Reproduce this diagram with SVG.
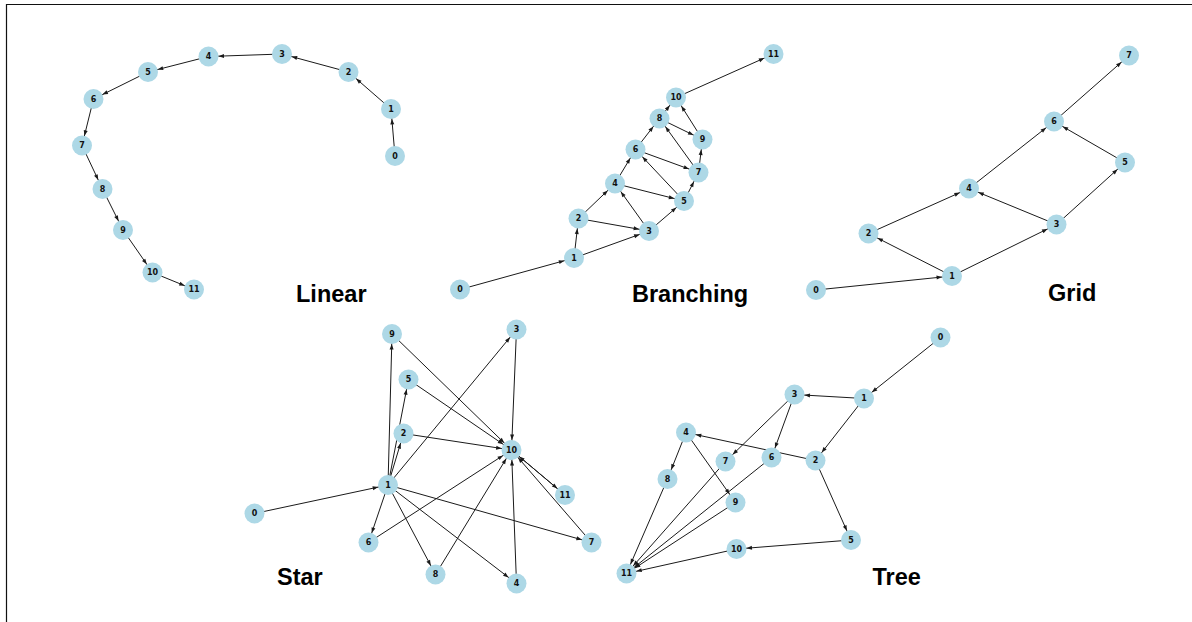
<svg xmlns="http://www.w3.org/2000/svg" width="1192" height="622" viewBox="0 0 1192 622">
  <style>
    .frame { stroke: #111; stroke-width: 1.2; fill: none; }
    .edge { stroke: #1a1a1a; stroke-width: 1; fill: none; marker-end: url(#arrow); }
    .node circle { fill: #add8e6; stroke: none; }
    .node text { font-family: "DejaVu Sans", sans-serif; font-weight: bold; font-size: 8px; text-anchor: middle; fill: #111; }
    .title { font-family: "Liberation Sans", Arial, sans-serif; font-weight: bold; font-size: 23.5px; fill: #000; }
  </style>
  <defs>
    <!-- arrowhead tip sits on the rim of a node of radius 10 -->
    <marker id="arrow" markerUnits="userSpaceOnUse" orient="auto" refX="0" refY="0" markerWidth="20" markerHeight="20" overflow="visible">
      <path d="M -10 0 L -15.5 -2 L -15.5 2 Z" fill="#1a1a1a"/>
    </marker>
  </defs>

  <rect width="1192" height="622" fill="#fff"/>
  <path class="frame" d="M 6.5 622 L 6.5 4.5 L 1192 4.5"/>

  <!-- Linear -->
  <g id="linear-edges">
    <line class="edge" x1="395" y1="156" x2="391" y2="109"/>
    <line class="edge" x1="391" y1="109" x2="348.5" y2="72"/>
    <line class="edge" x1="348.5" y1="72" x2="282" y2="54"/>
    <line class="edge" x1="282" y1="54" x2="208.5" y2="56.5"/>
    <line class="edge" x1="208.5" y1="56.5" x2="148" y2="72"/>
    <line class="edge" x1="148" y1="72" x2="93.5" y2="99"/>
    <line class="edge" x1="93.5" y1="99" x2="82" y2="145.5"/>
    <line class="edge" x1="82" y1="145.5" x2="102.5" y2="189"/>
    <line class="edge" x1="102.5" y1="189" x2="123" y2="230"/>
    <line class="edge" x1="123" y1="230" x2="152.5" y2="272.5"/>
    <line class="edge" x1="152.5" y1="272.5" x2="194" y2="289.5"/>
  </g>
  <g id="linear-0" class="node" transform="translate(395,156)"><circle r="10"/><text y="2.9">0</text></g>
  <g id="linear-1" class="node" transform="translate(391,109)"><circle r="10"/><text y="2.9">1</text></g>
  <g id="linear-2" class="node" transform="translate(348.5,72)"><circle r="10"/><text y="2.9">2</text></g>
  <g id="linear-3" class="node" transform="translate(282,54)"><circle r="10"/><text y="2.9">3</text></g>
  <g id="linear-4" class="node" transform="translate(208.5,56.5)"><circle r="10"/><text y="2.9">4</text></g>
  <g id="linear-5" class="node" transform="translate(148,72)"><circle r="10"/><text y="2.9">5</text></g>
  <g id="linear-6" class="node" transform="translate(93.5,99)"><circle r="10"/><text y="2.9">6</text></g>
  <g id="linear-7" class="node" transform="translate(82,145.5)"><circle r="10"/><text y="2.9">7</text></g>
  <g id="linear-8" class="node" transform="translate(102.5,189)"><circle r="10"/><text y="2.9">8</text></g>
  <g id="linear-9" class="node" transform="translate(123,230)"><circle r="10"/><text y="2.9">9</text></g>
  <g id="linear-10" class="node" transform="translate(152.5,272.5)"><circle r="10"/><text y="2.9">10</text></g>
  <g id="linear-11" class="node" transform="translate(194,289.5)"><circle r="10"/><text y="2.9">11</text></g>
  <text class="title" x="296" y="301.5">Linear</text>

  <!-- Branching -->
  <g id="branching-edges">
    <line class="edge" x1="460" y1="289.5" x2="574" y2="258"/>
    <line class="edge" x1="574" y1="258" x2="578.5" y2="218.5"/>
    <line class="edge" x1="574" y1="258" x2="649" y2="231"/>
    <line class="edge" x1="578.5" y1="218.5" x2="649" y2="231"/>
    <line class="edge" x1="578.5" y1="218.5" x2="615" y2="183.5"/>
    <line class="edge" x1="649" y1="231" x2="615" y2="183.5"/>
    <line class="edge" x1="649" y1="231" x2="684" y2="201"/>
    <line class="edge" x1="615" y1="183.5" x2="684" y2="201"/>
    <line class="edge" x1="615" y1="183.5" x2="635.5" y2="149.5"/>
    <line class="edge" x1="684" y1="201" x2="635.5" y2="149.5"/>
    <line class="edge" x1="684" y1="201" x2="698.5" y2="172.5"/>
    <line class="edge" x1="635.5" y1="149.5" x2="698.5" y2="172.5"/>
    <line class="edge" x1="635.5" y1="149.5" x2="659.5" y2="118.5"/>
    <line class="edge" x1="698.5" y1="172.5" x2="659.5" y2="118.5"/>
    <line class="edge" x1="698.5" y1="172.5" x2="702.5" y2="139.5"/>
    <line class="edge" x1="659.5" y1="118.5" x2="702.5" y2="139.5"/>
    <line class="edge" x1="659.5" y1="118.5" x2="676" y2="97.5"/>
    <line class="edge" x1="702.5" y1="139.5" x2="676" y2="97.5"/>
    <line class="edge" x1="676" y1="97.5" x2="773.5" y2="54"/>
  </g>
  <g id="branching-0" class="node" transform="translate(460,289.5)"><circle r="10"/><text y="2.9">0</text></g>
  <g id="branching-1" class="node" transform="translate(574,258)"><circle r="10"/><text y="2.9">1</text></g>
  <g id="branching-2" class="node" transform="translate(578.5,218.5)"><circle r="10"/><text y="2.9">2</text></g>
  <g id="branching-3" class="node" transform="translate(649,231)"><circle r="10"/><text y="2.9">3</text></g>
  <g id="branching-4" class="node" transform="translate(615,183.5)"><circle r="10"/><text y="2.9">4</text></g>
  <g id="branching-5" class="node" transform="translate(684,201)"><circle r="10"/><text y="2.9">5</text></g>
  <g id="branching-6" class="node" transform="translate(635.5,149.5)"><circle r="10"/><text y="2.9">6</text></g>
  <g id="branching-7" class="node" transform="translate(698.5,172.5)"><circle r="10"/><text y="2.9">7</text></g>
  <g id="branching-8" class="node" transform="translate(659.5,118.5)"><circle r="10"/><text y="2.9">8</text></g>
  <g id="branching-9" class="node" transform="translate(702.5,139.5)"><circle r="10"/><text y="2.9">9</text></g>
  <g id="branching-10" class="node" transform="translate(676,97.5)"><circle r="10"/><text y="2.9">10</text></g>
  <g id="branching-11" class="node" transform="translate(773.5,54)"><circle r="10"/><text y="2.9">11</text></g>
  <text class="title" x="632" y="301.5">Branching</text>

  <!-- Grid -->
  <g id="grid-edges">
    <line class="edge" x1="816" y1="290" x2="952" y2="276"/>
    <line class="edge" x1="952" y1="276" x2="868.5" y2="233.5"/>
    <line class="edge" x1="952" y1="276" x2="1056.5" y2="224.5"/>
    <line class="edge" x1="868.5" y1="233.5" x2="969" y2="188.5"/>
    <line class="edge" x1="1056.5" y1="224.5" x2="969" y2="188.5"/>
    <line class="edge" x1="1056.5" y1="224.5" x2="1125" y2="162.5"/>
    <line class="edge" x1="969" y1="188.5" x2="1054" y2="121.5"/>
    <line class="edge" x1="1125" y1="162.5" x2="1054" y2="121.5"/>
    <line class="edge" x1="1054" y1="121.5" x2="1129" y2="55.5"/>
  </g>
  <g id="grid-0" class="node" transform="translate(816,290)"><circle r="10"/><text y="2.9">0</text></g>
  <g id="grid-1" class="node" transform="translate(952,276)"><circle r="10"/><text y="2.9">1</text></g>
  <g id="grid-2" class="node" transform="translate(868.5,233.5)"><circle r="10"/><text y="2.9">2</text></g>
  <g id="grid-3" class="node" transform="translate(1056.5,224.5)"><circle r="10"/><text y="2.9">3</text></g>
  <g id="grid-4" class="node" transform="translate(969,188.5)"><circle r="10"/><text y="2.9">4</text></g>
  <g id="grid-5" class="node" transform="translate(1125,162.5)"><circle r="10"/><text y="2.9">5</text></g>
  <g id="grid-6" class="node" transform="translate(1054,121.5)"><circle r="10"/><text y="2.9">6</text></g>
  <g id="grid-7" class="node" transform="translate(1129,55.5)"><circle r="10"/><text y="2.9">7</text></g>
  <text class="title" x="1048" y="301">Grid</text>

  <!-- Star -->
  <g id="star-edges">
    <line class="edge" x1="254.5" y1="513.5" x2="388" y2="485"/>
    <line class="edge" x1="388" y1="485" x2="403.5" y2="433.5"/>
    <line class="edge" x1="388" y1="485" x2="516.5" y2="329.5"/>
    <line class="edge" x1="388" y1="485" x2="516.5" y2="583.5"/>
    <line class="edge" x1="388" y1="485" x2="408.5" y2="379.5"/>
    <line class="edge" x1="388" y1="485" x2="368.5" y2="542.5"/>
    <line class="edge" x1="388" y1="485" x2="591.5" y2="542.5"/>
    <line class="edge" x1="388" y1="485" x2="435.5" y2="574.5"/>
    <line class="edge" x1="388" y1="485" x2="392" y2="334"/>
    <line class="edge" x1="403.5" y1="433.5" x2="511.5" y2="450"/>
    <line class="edge" x1="516.5" y1="329.5" x2="511.5" y2="450"/>
    <line class="edge" x1="516.5" y1="583.5" x2="511.5" y2="450"/>
    <line class="edge" x1="408.5" y1="379.5" x2="511.5" y2="450"/>
    <line class="edge" x1="368.5" y1="542.5" x2="511.5" y2="450"/>
    <line class="edge" x1="591.5" y1="542.5" x2="511.5" y2="450"/>
    <line class="edge" x1="435.5" y1="574.5" x2="511.5" y2="450"/>
    <line class="edge" x1="392" y1="334" x2="511.5" y2="450"/>
    <line class="edge" x1="511.5" y1="450" x2="565" y2="495"/>
    <line class="edge" x1="565" y1="495" x2="511.5" y2="450"/>
  </g>
  <g id="star-0" class="node" transform="translate(254.5,513.5)"><circle r="10"/><text y="2.9">0</text></g>
  <g id="star-1" class="node" transform="translate(388,485)"><circle r="10"/><text y="2.9">1</text></g>
  <g id="star-2" class="node" transform="translate(403.5,433.5)"><circle r="10"/><text y="2.9">2</text></g>
  <g id="star-3" class="node" transform="translate(516.5,329.5)"><circle r="10"/><text y="2.9">3</text></g>
  <g id="star-4" class="node" transform="translate(516.5,583.5)"><circle r="10"/><text y="2.9">4</text></g>
  <g id="star-5" class="node" transform="translate(408.5,379.5)"><circle r="10"/><text y="2.9">5</text></g>
  <g id="star-6" class="node" transform="translate(368.5,542.5)"><circle r="10"/><text y="2.9">6</text></g>
  <g id="star-7" class="node" transform="translate(591.5,542.5)"><circle r="10"/><text y="2.9">7</text></g>
  <g id="star-8" class="node" transform="translate(435.5,574.5)"><circle r="10"/><text y="2.9">8</text></g>
  <g id="star-9" class="node" transform="translate(392,334)"><circle r="10"/><text y="2.9">9</text></g>
  <g id="star-10" class="node" transform="translate(511.5,450)"><circle r="10"/><text y="2.9">10</text></g>
  <g id="star-11" class="node" transform="translate(565,495)"><circle r="10"/><text y="2.9">11</text></g>
  <text class="title" x="277" y="585">Star</text>

  <!-- Tree -->
  <g id="tree-edges">
    <line class="edge" x1="940.5" y1="337.5" x2="864" y2="398.5"/>
    <line class="edge" x1="864" y1="398.5" x2="794.5" y2="394.5"/>
    <line class="edge" x1="864" y1="398.5" x2="815.5" y2="460.5"/>
    <line class="edge" x1="794.5" y1="394.5" x2="725.5" y2="461.5"/>
    <line class="edge" x1="794.5" y1="394.5" x2="771.5" y2="457.5"/>
    <line class="edge" x1="815.5" y1="460.5" x2="686" y2="432.5"/>
    <line class="edge" x1="815.5" y1="460.5" x2="851" y2="540"/>
    <line class="edge" x1="686" y1="432.5" x2="667.5" y2="479"/>
    <line class="edge" x1="686" y1="432.5" x2="735.5" y2="502.5"/>
    <line class="edge" x1="851" y1="540" x2="736.5" y2="549"/>
    <line class="edge" x1="771.5" y1="457.5" x2="626.5" y2="573.5"/>
    <line class="edge" x1="725.5" y1="461.5" x2="626.5" y2="573.5"/>
    <line class="edge" x1="667.5" y1="479" x2="626.5" y2="573.5"/>
    <line class="edge" x1="735.5" y1="502.5" x2="626.5" y2="573.5"/>
    <line class="edge" x1="736.5" y1="549" x2="626.5" y2="573.5"/>
  </g>
  <g id="tree-0" class="node" transform="translate(940.5,337.5)"><circle r="10"/><text y="2.9">0</text></g>
  <g id="tree-1" class="node" transform="translate(864,398.5)"><circle r="10"/><text y="2.9">1</text></g>
  <g id="tree-2" class="node" transform="translate(815.5,460.5)"><circle r="10"/><text y="2.9">2</text></g>
  <g id="tree-3" class="node" transform="translate(794.5,394.5)"><circle r="10"/><text y="2.9">3</text></g>
  <g id="tree-4" class="node" transform="translate(686,432.5)"><circle r="10"/><text y="2.9">4</text></g>
  <g id="tree-5" class="node" transform="translate(851,540)"><circle r="10"/><text y="2.9">5</text></g>
  <g id="tree-6" class="node" transform="translate(771.5,457.5)"><circle r="10"/><text y="2.9">6</text></g>
  <g id="tree-7" class="node" transform="translate(725.5,461.5)"><circle r="10"/><text y="2.9">7</text></g>
  <g id="tree-8" class="node" transform="translate(667.5,479)"><circle r="10"/><text y="2.9">8</text></g>
  <g id="tree-9" class="node" transform="translate(735.5,502.5)"><circle r="10"/><text y="2.9">9</text></g>
  <g id="tree-10" class="node" transform="translate(736.5,549)"><circle r="10"/><text y="2.9">10</text></g>
  <g id="tree-11" class="node" transform="translate(626.5,573.5)"><circle r="10"/><text y="2.9">11</text></g>
  <text class="title" x="872.5" y="585">Tree</text>
</svg>
